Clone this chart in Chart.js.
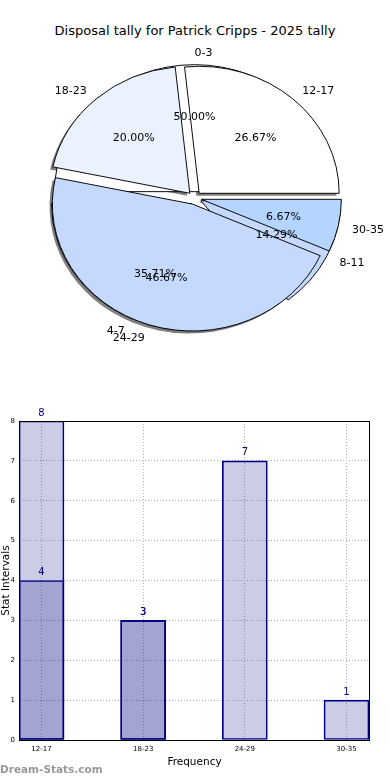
<!DOCTYPE html>
<html>
<head>
<meta charset="utf-8">
<script src="https://cdn.jsdelivr.net/npm/chart.js@4.4.1/dist/chart.umd.min.js"></script>
<style>
body { margin: 0; background: #fff; width: 390px; height: 780px; position: relative; overflow: hidden; font-family: "DejaVu Sans", sans-serif; }
#title { position: absolute; top: 23px; left: 0; width: 390px; text-align: center; font-size: 13px; color: #000; }
canvas { position: absolute; left: 0; }
#pieA, #pieB { top: 0; }
#bars { top: 400px; }
</style>
</head>
<body>
<div id="title">Disposal tally for Patrick Cripps - 2025 tally</div>
<canvas id="pieA" width="389" height="396"></canvas>
<canvas id="pieB" width="389" height="396"></canvas>
<canvas id="bars" width="390" height="380"></canvas>
<script>
// pie data
const innerLabels = ['0-3', '4-7', '8-11'];
const innerCounts = [7, 5, 2];
const outerLabels = ['12-17', '18-23', '24-29', '30-35'];
const outerCounts = [4, 3, 7, 1];
const innerColors = ['#ffffff', '#c5d9ff', '#c5d9ff'];
const outerColors = ['#ffffff', '#eaf1ff', '#c5d9ff', '#b3d5ff'];

// bar data
const barCategories = ['12-17', '18-23', '24-29', '30-35'];
const barSeriesA = [4, 3, 7, 1];
const barSeriesB = [8, 3, null, null];

const FONT = '"DejaVu Sans", sans-serif';
const squash = 0.907;   // pie is drawn as an ellipse
const explode = 0.05;   // fraction of the radius each wedge is pulled out
const pies = {};

function centre(chart) {
  const a = chart.chartArea;
  return { x: (a.left + a.right) / 2, y: (a.top + a.bottom) / 2 };
}

const piePlugin = {
  id: 'piePlugin',
  afterDatasetUpdate(chart, args) {
    // pull every wedge out along its middle angle
    args.meta.data.forEach(a => {
      const mid = (a.startAngle + a.endAngle) / 2;
      const d = explode * a.outerRadius;
      a.x += d * Math.cos(mid);
      a.y += d * Math.sin(mid);
    });
  },
  beforeDatasetsDraw(chart) {
    const ctx = chart.ctx;
    const c = centre(chart);
    ctx.save();
    ctx.translate(c.x, c.y);
    ctx.scale(1, squash);
    ctx.translate(-c.x, -c.y);
    if (chart.canvas.id !== 'pieA') return;
    // shadows of both pies sit under all wedges
    ctx.fillStyle = 'rgba(40,40,40,0.6)';
    Object.values(pies).forEach(p => {
      p.getDatasetMeta(0).data.forEach(a => {
        const x = a.x - 2.8, y = a.y + 2.5 / squash;
        ctx.beginPath();
        ctx.moveTo(x, y);
        ctx.arc(x, y, a.outerRadius, a.startAngle, a.endAngle);
        ctx.closePath();
        ctx.fill();
      });
    });
  },
  afterDatasetsDraw(chart) {
    const ctx = chart.ctx;
    ctx.restore();
    if (chart.canvas.id !== 'pieB') return;
    // texts of both pies go on top of all wedges
    ctx.save();
    ctx.font = '11px ' + FONT;
    ctx.fillStyle = '#000';
    ctx.textBaseline = 'middle';
    ['pieA', 'pieB'].forEach(k => {
      const p = pies[k];
      if (!p) return;
      const c = centre(p);
      const ds = p.data.datasets[0];
      const total = ds.data.reduce((s, v) => s + v, 0);
      p.getDatasetMeta(0).data.forEach((a, i) => {
        const mid = (a.startAngle + a.endAngle) / 2;
        const cos = Math.cos(mid), sin = Math.sin(mid);
        const ax = a.x, ay = c.y + (a.y - c.y) * squash + 1.5;
        const r = a.outerRadius;
        ctx.textAlign = cos > -1e-9 ? 'left' : 'right';
        ctx.fillText(p.data.labels[i], ax + 1.1 * r * cos, ay + 1.1 * r * sin * squash);
        ctx.textAlign = 'center';
        ctx.fillText((ds.data[i] / total * 100).toFixed(2) + '%', ax + 0.6 * r * cos, ay + 0.6 * r * sin * squash);
      });
    });
    ctx.restore();
  }
};

function makePie(id, labels, counts, colors) {
  pies[id] = new Chart(document.getElementById(id), {
    type: 'pie',
    data: {
      labels: labels.slice().reverse(),
      datasets: [{
        data: counts.slice().reverse(),
        backgroundColor: colors.slice().reverse(),
        borderColor: '#000',
        borderWidth: 1,
        borderJoinStyle: 'miter',
        hoverOffset: 0
      }]
    },
    options: {
      responsive: false,
      animation: false,
      events: [],
      rotation: 90,
      radius: 140,
      plugins: { legend: { display: false }, tooltip: { enabled: false } }
    },
    plugins: [piePlugin]
  });
}

makePie('pieB', outerLabels, outerCounts, outerColors);
makePie('pieA', innerLabels, innerCounts, innerColors);
pies.pieB.draw();

const barLabels = {
  id: 'barLabels',
  afterDraw(chart) {
    const ctx = chart.ctx;
    ctx.save();
    ctx.font = '10px ' + FONT;
    ctx.fillStyle = '#000080';
    ctx.textAlign = 'center';
    ctx.textBaseline = 'bottom';
    chart.data.datasets.forEach((ds, di) => {
      chart.getDatasetMeta(di).data.forEach((el, i) => {
        const v = ds.data[i].y;
        if (v == null) return;
        ctx.fillText(String(v), el.x, el.y - 3);
      });
    });
    // frame
    const a = chart.chartArea;
    ctx.strokeStyle = '#000';
    ctx.lineWidth = 1;
    ctx.strokeRect(Math.round(a.left) + 0.5, Math.round(a.top) + 0.5, Math.round(a.right - a.left) - 1, Math.round(a.bottom - a.top));
    // watermark
    ctx.font = 'bold 10.5px ' + FONT;
    ctx.fillStyle = '#999';
    ctx.textAlign = 'left';
    ctx.textBaseline = 'middle';
    ctx.fillText('Dream-Stats.com', 0, 370);
    ctx.restore();
  }
};

const barStyle = {
  backgroundColor: 'rgba(0,0,128,0.2)',
  borderColor: '#000080',
  borderWidth: 1,
  borderSkipped: false,
  barThickness: 45,
  grouped: false
};

new Chart(document.getElementById('bars'), {
  type: 'bar',
  data: {
    datasets: [
      Object.assign({ label: 'A', data: barSeriesA.map((v, i) => ({ x: i, y: v })) }, barStyle),
      Object.assign({ label: 'B', data: barSeriesB.map((v, i) => ({ x: i, y: v })) }, barStyle)
    ]
  },
  options: {
    responsive: false,
    animation: false,
    events: [],
    layout: { padding: { top: 21, right: 20, left: 0, bottom: 0 } },
    plugins: { legend: { display: false }, tooltip: { enabled: false } },
    scales: {
      x: {
        type: 'linear',
        offset: false,
        min: -0.2213,
        max: 3.2312,
        z: 1,
        afterFit(s) { s.height = 40; },
        afterBuildTicks(s) { s.ticks = barCategories.map((c, i) => ({ value: i })); },
        ticks: {
          callback: v => barCategories[v],
          font: { family: FONT, size: 7 },
          color: '#000',
          padding: 5,
          maxRotation: 0,
          autoSkip: false
        },
        grid: { offset: false, color: '#b0b0b0', drawTicks: false },
        border: { display: false, dash: [1, 2] },
        title: { display: true, text: 'Frequency', color: '#000', font: { family: FONT, size: 10.5 }, padding: { top: 0, bottom: 11 } }
      },
      y: {
        min: 0,
        max: 8,
        z: 1,
        afterFit(s) { s.width = 19; },
        ticks: { stepSize: 1, font: { family: FONT, size: 7 }, color: '#000', padding: 4 },
        grid: { color: '#b0b0b0', drawTicks: false },
        border: { display: false, dash: [1, 2] },
        title: { display: true, text: 'Stat Intervals', color: '#000', font: { family: FONT, size: 10.5 }, padding: 0 }
      }
    }
  },
  plugins: [barLabels]
});
</script>
</body>
</html>
